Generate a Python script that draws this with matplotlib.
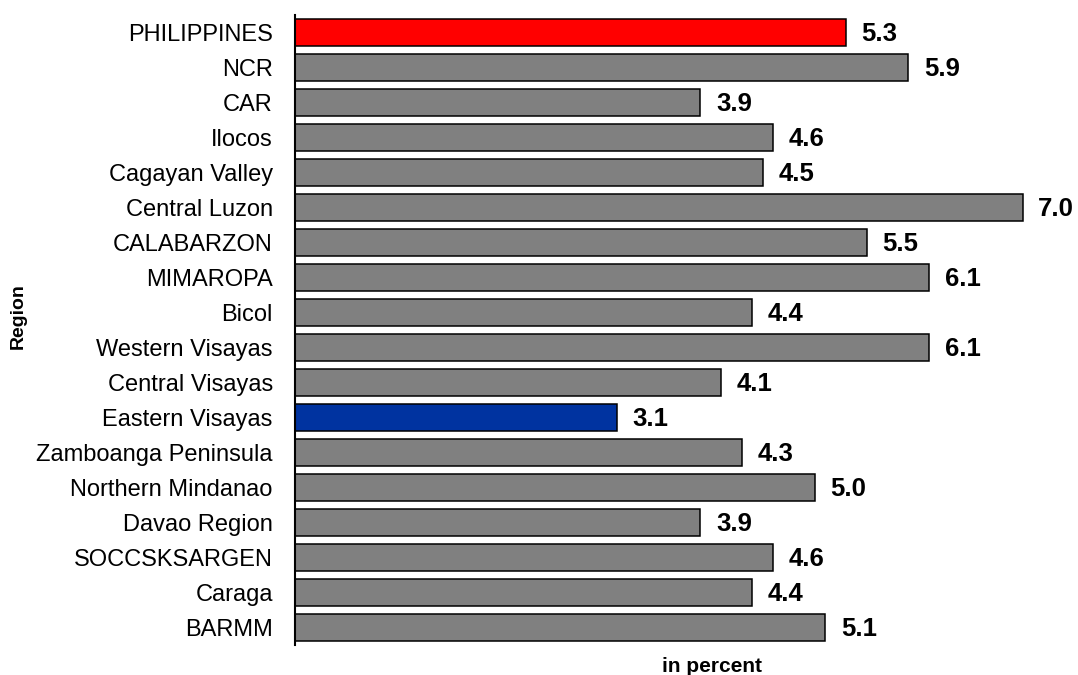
import matplotlib
matplotlib.use("Agg")
import matplotlib.pyplot as plt

plt.rcParams['font.family'] = ['Liberation Sans', 'DejaVu Sans']

regions = ["PHILIPPINES", "NCR", "CAR", "Ilocos", "Cagayan Valley", "Central Luzon",
           "CALABARZON", "MIMAROPA", "Bicol", "Western Visayas", "Central Visayas",
           "Eastern Visayas", "Zamboanga Peninsula", "Northern Mindanao", "Davao Region",
           "SOCCSKSARGEN", "Caraga", "BARMM"]
rates = [5.3, 5.9, 3.9, 4.6, 4.5, 7.0, 5.5, 6.1, 4.4, 6.1, 4.1, 3.1, 4.3, 5.0, 3.9, 4.6, 4.4, 5.1]

# national figure in red, Eastern Visayas highlighted in blue
colors = ["#808080"] * len(regions)
colors[0] = "#FF0000"
colors[regions.index("Eastern Visayas")] = "#0033A0"

fig = plt.figure(figsize=(10.78, 6.75), dpi=100)
ax = fig.add_axes([295 / 1078, 30 / 675, 790 / 1078, 630 / 675])

ypos = list(range(len(regions)))
ax.barh(ypos, rates, height=0.77, color=colors, edgecolor="black", linewidth=1.1)

for y, v in zip(ypos, rates):
    ax.text(v + 0.15, y + 0.05, f"{v:.1f}", va="center", ha="left",
            fontsize=18.5, fontweight="bold", clip_on=False)

ax.set_ylim(len(regions) - 0.5, -0.5)
ax.set_xlim(0, 7.6)
ax.set_yticks(ypos)
ax.set_yticklabels(regions, fontsize=17)
ax.tick_params(axis="y", length=0, pad=16)
ax.set_xticks([])

for side in ["top", "right", "bottom"]:
    ax.spines[side].set_visible(False)
ax.spines["left"].set_linewidth(1.5)

fig.text(712 / 1078, 8 / 675, "in percent", ha="center", va="center",
         fontsize=15, fontweight="bold")
fig.text(18 / 1078, 359 / 675, "Region", ha="center", va="center", rotation=90,
         fontsize=14, fontweight="bold")

fig.savefig("out.png", dpi=100)
